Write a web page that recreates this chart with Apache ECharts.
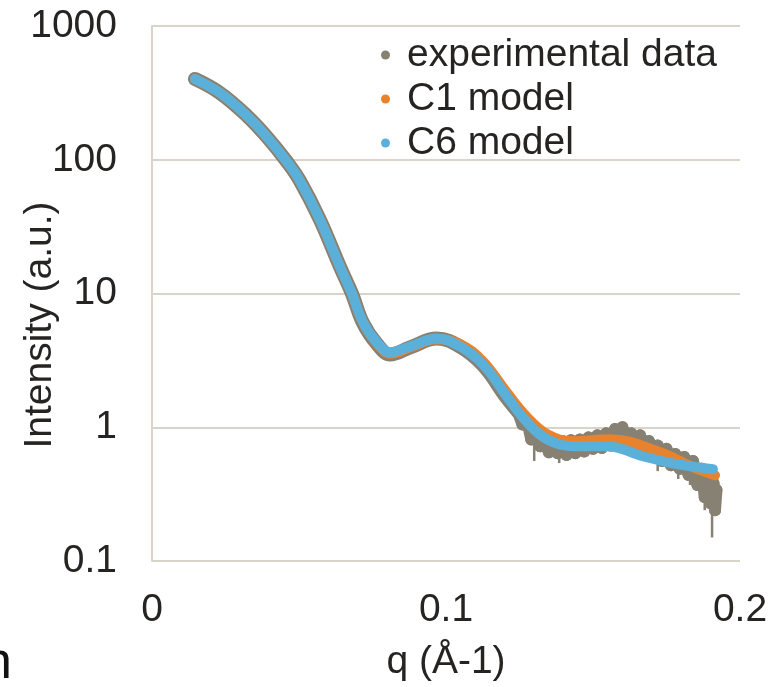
<!DOCTYPE html>
<html>
<head>
<meta charset="utf-8">
<script src="https://cdn.jsdelivr.net/npm/echarts@6/dist/echarts.min.js"></script>
<style>
  html, body { margin: 0; padding: 0; background: #fff; }
  #main { width: 783px; height: 687px; }
</style>
</head>
<body>
<div id="main"></div>
<script>
// experimental data, smooth low-q part (q, intensity)
const expQ = [0.0146, 0.0231, 0.0323, 0.0391, 0.0459, 0.0503, 0.0571, 0.0639, 0.0680, 0.0718, 0.0765, 0.0810, 0.0878, 0.0969, 0.1048, 0.1126, 0.1207, 0.1245];
const expI = [402, 316, 213, 148, 96.6, 69.7, 35.7, 15.9, 10.0, 6.0, 4.2, 3.5, 3.95, 4.6, 4.0, 2.9, 1.65, 1.3];

// experimental data, noisy high-q part
const expNoisyQ = [0.1245, 0.1260, 0.1275, 0.1290, 0.1305, 0.1320, 0.1335, 0.1350, 0.1365, 0.1380, 0.1395, 0.1410, 0.1425, 0.1440, 0.1455, 0.1470, 0.1485, 0.1500, 0.1515, 0.1530, 0.1545, 0.1560, 0.1575, 0.1590, 0.1600, 0.1615, 0.1630, 0.1645, 0.1660, 0.1675, 0.1690, 0.1705, 0.1720, 0.1735, 0.1750, 0.1765, 0.1780, 0.1795, 0.1810, 0.1825, 0.1840, 0.1855, 0.1870, 0.1880, 0.1890, 0.1900, 0.1910, 0.1915, 0.1920];
const expNoisyI = [1.3, 1.05, 1.15, 0.81, 0.93, 0.72, 0.81, 0.65, 0.81, 0.64, 0.79, 0.62, 0.80, 0.64, 0.81, 0.66, 0.84, 0.69, 0.87, 0.70, 0.90, 0.73, 0.97, 0.77, 1.00, 0.76, 0.90, 0.71, 0.87, 0.66, 0.79, 0.60, 0.73, 0.56, 0.69, 0.52, 0.63, 0.49, 0.60, 0.44, 0.56, 0.37, 0.49, 0.30, 0.42, 0.27, 0.38, 0.24, 0.34];

// error bars on the experimental data (q, low, high)
const errQ = [0.1300, 0.1385, 0.1445, 0.1720, 0.1790, 0.1830, 0.1880, 0.1905];
const errLow = [0.56, 0.54, 0.58, 0.47, 0.41, 0.37, 0.24, 0.15];
const errHigh = [0.80, 0.74, 0.78, 0.70, 0.62, 0.56, 0.42, 0.33];

// C1 model
const c1Q = [0.0146, 0.0231, 0.0323, 0.0391, 0.0459, 0.0503, 0.0571, 0.0639, 0.0680, 0.0718, 0.0765, 0.0810, 0.0878, 0.0969, 0.1048, 0.1126, 0.1207, 0.1276, 0.1344, 0.1432, 0.1558, 0.1728, 0.1840, 0.1915];
const c1I = [402, 316, 213, 148, 96.6, 69.7, 35.7, 15.9, 10.0, 6.05, 4.25, 3.55, 3.95, 4.55, 4.2, 3.1, 1.82, 1.19, 0.887, 0.786, 0.814, 0.651, 0.503, 0.438];

// C6 model
const c6Q = [0.0146, 0.0231, 0.0323, 0.0391, 0.0459, 0.0503, 0.0571, 0.0639, 0.0680, 0.0718, 0.0765, 0.0810, 0.0878, 0.0969, 0.1048, 0.1126, 0.1207, 0.1276, 0.1344, 0.1432, 0.1548, 0.1670, 0.1786, 0.1908];
const c6I = [402, 316, 213, 148, 96.6, 69.7, 35.7, 15.9, 10.0, 6.08, 4.31, 3.63, 4.02, 4.6, 4.02, 2.95, 1.70, 1.09, 0.813, 0.722, 0.722, 0.607, 0.530, 0.486];

const xTicks = [0, 0.1, 0.2];
const yTicks = [0.1, 1, 10, 100, 1000];

const font = 'Liberation Sans, Arial, sans-serif';
const textColor = '#262422';
const gridColor = '#d8d5c8';
const greyColor = '#878174';

const chart = echarts.init(document.getElementById('main'));

chart.setOption({
  animation: false,
  grid: { left: 152, right: 43, top: 26, bottom: 126 },
  legend: {
    orient: 'vertical',
    left: 381,
    top: 33,
    padding: 0,
    itemGap: 0,
    itemWidth: 9,
    itemHeight: 9,
    icon: 'circle',
    textStyle: { fontFamily: font, fontSize: 39, color: textColor, lineHeight: 44, padding: [0, 0, 0, 12] },
    data: ['experimental data', 'C1 model', 'C6 model']
  },
  xAxis: {
    type: 'value',
    min: xTicks[0],
    max: xTicks[xTicks.length - 1],
    interval: 0.1,
    name: 'q (Å-1)',
    nameLocation: 'middle',
    nameGap: 82,
    nameTextStyle: { fontFamily: font, fontSize: 39, color: textColor },
    axisLine: { show: false },
    axisTick: { show: false },
    splitLine: { show: false },
    axisLabel: { fontFamily: font, fontSize: 39, color: textColor, margin: 30, formatter: v => String(+v.toFixed(1)) }
  },
  yAxis: {
    type: 'log',
    logBase: 10,
    min: yTicks[0],
    max: yTicks[yTicks.length - 1],
    axisLine: { show: true, lineStyle: { color: gridColor, width: 2 } },
    axisTick: { show: false },
    splitLine: { show: true, lineStyle: { color: gridColor, width: 2 } },
    axisLabel: { fontFamily: font, fontSize: 39, color: textColor, margin: 35, formatter: v => String(+(+v).toPrecision(3)) }
  },
  graphic: [
    {
      type: 'text',
      x: 40, y: 325,
      rotation: Math.PI / 2,
      style: { text: 'Intensity (a.u.)', fontFamily: font, fontSize: 39, fill: textColor, align: 'center', verticalAlign: 'middle' }
    },
    {
      type: 'text',
      x: -17, y: 690,
      style: { text: 'n', fontFamily: font, fontSize: 52, fill: '#111', align: 'left', verticalAlign: 'bottom' }
    }
  ],
  series: [
    {
      name: 'experimental data',
      type: 'line',
      data: expQ.map((q, i) => [q, expI[i]]),
      smooth: 0.4,
      showSymbol: false,
      color: greyColor,
      lineStyle: { width: 14, color: greyColor, cap: 'round' },
      z: 2
    },
    {
      name: 'experimental data',
      type: 'line',
      data: expNoisyQ.map((q, i) => [q, expNoisyI[i]]),
      smooth: false,
      symbol: 'circle',
      symbolSize: 12,
      showSymbol: true,
      showAllSymbol: true,
      color: greyColor,
      itemStyle: { color: greyColor },
      lineStyle: { width: 12, color: greyColor, cap: 'round', join: 'round' },
      z: 2
    },
    {
      name: 'experimental data',
      type: 'custom',
      data: errQ.map((q, i) => [q, errLow[i], errHigh[i]]),
      renderItem: (params, api) => {
        const lo = api.coord([api.value(0), api.value(1)]);
        const hi = api.coord([api.value(0), api.value(2)]);
        return {
          type: 'line',
          shape: { x1: lo[0], y1: lo[1], x2: hi[0], y2: hi[1] },
          style: { stroke: greyColor, lineWidth: 2.5 }
        };
      },
      z: 2
    },
    {
      name: 'C1 model',
      type: 'line',
      data: c1Q.map((q, i) => [q, c1I[i]]),
      smooth: 0.4,
      showSymbol: false,
      color: '#e8822c',
      lineStyle: { width: 10, color: '#e8822c', cap: 'round' },
      z: 3
    },
    {
      name: 'C6 model',
      type: 'line',
      data: c6Q.map((q, i) => [q, c6I[i]]),
      smooth: 0.4,
      showSymbol: false,
      color: '#5bb0da',
      lineStyle: { width: 10, color: '#5bb0da', cap: 'round' },
      z: 4
    }
  ]
});
</script>
</body>
</html>
